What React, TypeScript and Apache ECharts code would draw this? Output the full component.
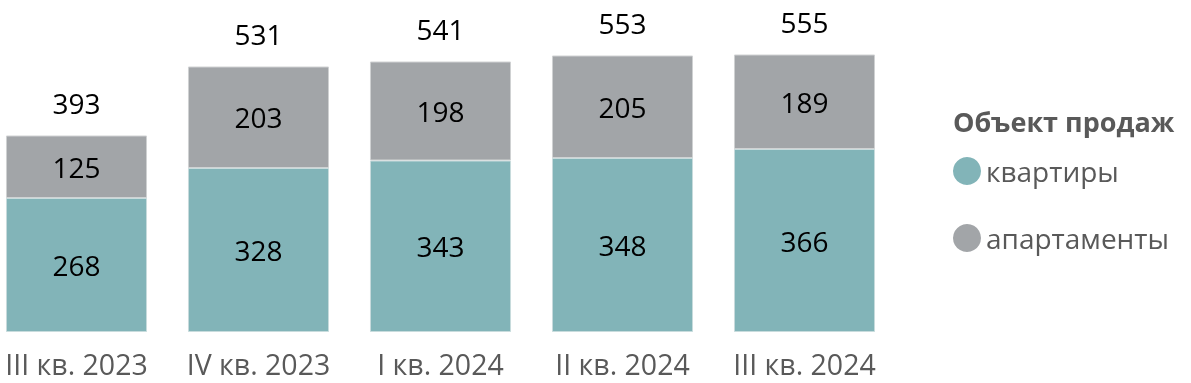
import React, { useEffect, useRef } from "react";
import * as echarts from "echarts";

const categories = ["III кв. 2023", "IV кв. 2023", "I кв. 2024", "II кв. 2024", "III кв. 2024"];
const apartments = [268, 328, 343, 348, 366];
const apartHotels = [125, 203, 198, 205, 189];
const totals = apartments.map((v, i) => v + apartHotels[i]);

const FONT = "'Open Sans', 'Noto Sans', sans-serif";
const SHIFT = 15;

export default function App() {
  const ref = useRef<HTMLDivElement>(null);
  useEffect(() => {
    if (!ref.current) return;
    const chart = echarts.init(ref.current, undefined, { renderer: "svg" });
    chart.setOption({
      animation: false,
      textStyle: { fontFamily: FONT },
      title: {
        text: "Объект продаж",
        left: 948 + SHIFT,
        top: 103,
        textStyle: { fontFamily: FONT, fontSize: 27, fontWeight: "bold", color: "#595959" },
      },
      legend: {
        orient: "vertical",
        left: 948 + SHIFT,
        top: 152,
        itemWidth: 28,
        itemHeight: 28,
        itemGap: 39,
        icon: "circle",
        itemStyle: { borderWidth: 0 },
        data: ["квартиры", "апартаменты"],
        textStyle: { fontFamily: FONT, fontSize: 28, color: "#595959" },
      },
      grid: { left: SHIFT - 14.5, width: 910, top: 32, bottom: 51, containLabel: false },
      xAxis: {
        type: "category",
        data: categories,
        axisLine: { show: false },
        axisTick: { show: false },
        axisLabel: {
          interval: 0,
          fontFamily: FONT,
          fontSize: 28.5,
          lineHeight: 29,
          color: "#595959",
          margin: 17,
        },
      },
      yAxis: { type: "value", min: 0, max: 600, show: false, splitLine: { show: false } },
      series: [
        {
          name: "квартиры",
          type: "bar",
          stack: "s",
          data: apartments,
          barCategoryGap: "22.5%",
          itemStyle: { color: "#82B4B8", borderColor: "#C8DCDD", borderWidth: 1 },
          label: { show: true, position: "inside", fontFamily: FONT, fontSize: 28, color: "#000" },
        },
        {
          name: "апартаменты",
          type: "bar",
          stack: "s",
          data: apartHotels,
          itemStyle: { color: "#A2A5A8", borderColor: "#D0D2D3", borderWidth: 1 },
          label: { show: true, position: "inside", fontFamily: FONT, fontSize: 28, color: "#000" },
        },
        {
          name: "total",
          type: "bar",
          stack: "s",
          data: totals.map(() => 0),
          itemStyle: { color: "transparent" },
          label: {
            show: true,
            position: "top",
            distance: 18.5,
            fontFamily: FONT,
            fontSize: 28,
            color: "#000",
            formatter: (p: any) => String(totals[p.dataIndex]),
          },
        },
      ],
    });
    return () => chart.dispose();
  }, []);
  return (
    <div
      ref={ref}
      style={{ position: "fixed", left: -SHIFT, top: 0, width: 1191 + SHIFT, height: 383 }}
    />
  );
}
